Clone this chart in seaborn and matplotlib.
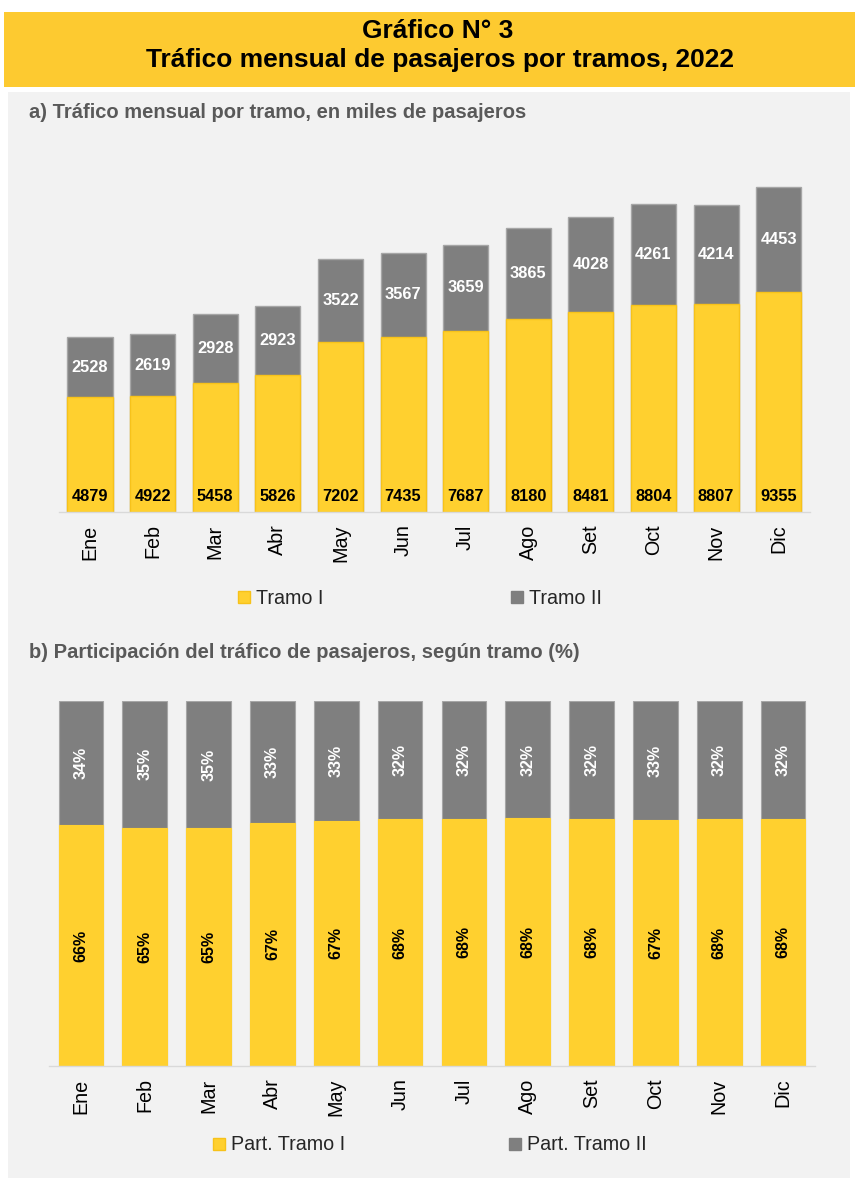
import matplotlib
matplotlib.use("Agg")
import matplotlib.pyplot as plt
import seaborn as sns
import pandas as pd
from matplotlib.patches import Rectangle
from matplotlib.lines import Line2D
from matplotlib import font_manager

sns.set_theme(style="white")
plt.rcParams['font.family'] = ['Liberation Sans', 'DejaVu Sans']
names = sorted({f.name for f in font_manager.fontManager.ttflist})
NARROW = ['Liberation Sans Narrow', 'Liberation Sans'] if 'Liberation Sans Narrow' in names else ['Liberation Sans']

months = ["Ene", "Feb", "Mar", "Abr", "May", "Jun", "Jul", "Ago", "Set", "Oct", "Nov", "Dic"]
tramo1 = [4879, 4922, 5458, 5826, 7202, 7435, 7687, 8180, 8481, 8804, 8807, 9355]
tramo2 = [2528, 2619, 2928, 2923, 3522, 3567, 3659, 3865, 4028, 4261, 4214, 4453]
part1 = [65.9, 65.3, 65.1, 66.6, 67.2, 67.6, 67.7, 67.9, 67.8, 67.4, 67.6, 67.8]
part1_lbl = ["66%", "65%", "65%", "67%", "67%", "68%", "68%", "68%", "68%", "67%", "68%", "68%"]
part2_lbl = ["34%", "35%", "35%", "33%", "33%", "32%", "32%", "32%", "32%", "33%", "32%", "32%"]

YELLOW = "#FFD02F"
YEDGE = "#F7C21A"
GRAY = "#7F7F7F"
GEDGE = "#A6A6A6"
BG = "#F2F2F2"

W, H = 855, 1180
fig = plt.figure(figsize=(W / 100, H / 100), dpi=100)
fig.patch.set_facecolor("white")

def px(x0, y0, x1, y1):
    return [x0 / W, 1 - y1 / H, (x1 - x0) / W, (y1 - y0) / H]

# title band and panel
fig.patches.append(Rectangle((4 / W, 1 - 87 / H), (W - 4) / W, 75 / H, transform=fig.transFigure,
                             facecolor="#FDCA30", edgecolor="none", zorder=-10))
fig.patches.append(Rectangle((8 / W, 1 - 1178 / H), 842 / W, (1178 - 92) / H, transform=fig.transFigure,
                             facecolor=BG, edgecolor="none", zorder=-10))
fig.text(438 / W, 1 - 31 / H, "Gráfico N° 3", ha="center", va="center", fontsize=19,
         fontweight="bold", color="black", family=NARROW)
fig.text(440 / W, 1 - 60 / H, "Tráfico mensual de pasajeros por tramos, 2022", ha="center", va="center",
         fontsize=19, fontweight="bold", color="black", family=NARROW)
fig.text(29 / W, 1 - 112 / H, "a) Tráfico mensual por tramo, en miles de pasajeros", ha="left", va="center",
         fontsize=14.5, fontweight="bold", color="#595959", family=NARROW)
fig.text(29 / W, 1 - 653 / H, "b) Participación del tráfico de pasajeros, según tramo (%)", ha="left", va="center",
         fontsize=14.5, fontweight="bold", color="#595959", family=NARROW)

# ---- chart a
df = pd.DataFrame({"mes": months, "t1": tramo1, "t2": tramo2})
df["total"] = df["t1"] + df["t2"]
ax1 = fig.add_axes(px(58.7, 135, 810, 512))
ax1.set_facecolor("none")
sns.barplot(data=df, x="mes", y="total", color=GRAY, saturation=1, width=0.72, ax=ax1,
            edgecolor=GEDGE, linewidth=1)
sns.barplot(data=df, x="mes", y="t1", color=YELLOW, saturation=1, width=0.72, ax=ax1,
            edgecolor=YEDGE, linewidth=1)
ax1.set_ylim(0, 16000)
ax1.set_xlim(-0.5, 11.5)
for i in range(12):
    ax1.annotate(str(tramo1[i]), xy=(i, 0), xytext=(0, 11), textcoords="offset points",
                 ha="center", va="center", fontsize=11.8, fontweight="bold", color="black")
    ax1.text(i, tramo1[i] + tramo2[i] / 2, str(tramo2[i]), ha="center", va="center",
             fontsize=11.8, fontweight="bold", color="white")

# ---- chart b
dfp = pd.DataFrame({"mes": months, "p1": part1})
dfp["full"] = 100.0
ax2 = fig.add_axes(px(49, 701, 815, 1066))
ax2.set_facecolor("none")
sns.barplot(data=dfp, x="mes", y="full", color=GRAY, saturation=1, width=0.7, ax=ax2,
            edgecolor=GEDGE, linewidth=0.8)
sns.barplot(data=dfp, x="mes", y="p1", color=YELLOW, saturation=1, width=0.7, ax=ax2,
            edgecolor=YELLOW, linewidth=0.8)
ax2.set_ylim(0, 100)
ax2.set_xlim(-0.5, 11.5)
for i in range(12):
    ax2.text(i, part1[i] / 2, part1_lbl[i], ha="center", va="center", rotation=90,
             fontsize=11.5, fontweight="bold", color="black")
    ax2.text(i, part1[i] + (100 - part1[i]) / 2, part2_lbl[i], ha="center", va="center", rotation=90,
             fontsize=11.5, fontweight="bold", color="white")

for ax in (ax1, ax2):
    ax.set_xlabel("")
    ax.set_ylabel("")
    ax.set_yticks([])
    for s in ("top", "right", "left"):
        ax.spines[s].set_visible(False)
    ax.spines["bottom"].set_color("#D9D9D9")
    ax.spines["bottom"].set_linewidth(1)
    ax.tick_params(axis="x", length=0, pad=9, labelsize=14.2, labelcolor="black")
    for lab in ax.get_xticklabels():
        lab.set_rotation(90)
        lab.set_va("top")
        lab.set_ha("center")

def handles(l1, l2):
    return [Line2D([0], [0], marker="s", linestyle="none", markersize=8.5, markerfacecolor=YELLOW,
                   markeredgecolor=YEDGE, label=l1),
            Line2D([0], [0], marker="s", linestyle="none", markersize=8.5, markerfacecolor=GRAY,
                   markeredgecolor=GRAY, label=l2)]

fig.legend(handles=handles("Tramo I", "Tramo II"), loc="center", bbox_to_anchor=(420 / W, 1 - 598 / H),
           ncol=2, frameon=False, fontsize=14.2, handlelength=0.6, handletextpad=0.3, columnspacing=9.5)
fig.legend(handles=handles("Part. Tramo I", "Part. Tramo II"), loc="center",
           bbox_to_anchor=(430 / W, 1 - 1145 / H), ncol=2, frameon=False, fontsize=14.2,
           handlelength=0.6, handletextpad=0.3, columnspacing=8.3)

fig.savefig("out.png", dpi=100)
